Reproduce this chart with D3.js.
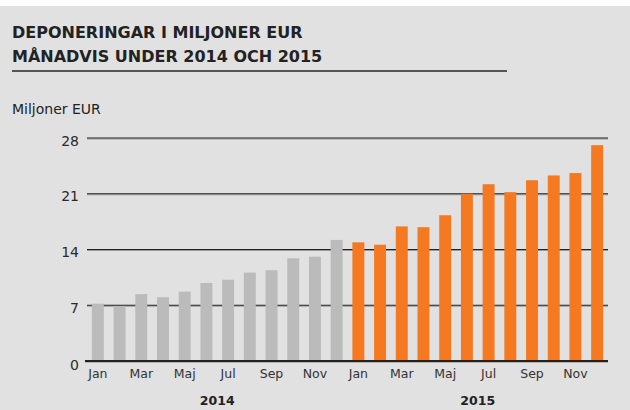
<!DOCTYPE html>
<html>
<head>
<meta charset="utf-8">
<script src="https://cdn.jsdelivr.net/npm/d3@7"></script>
<style>
  body { margin: 0; background: #fff; }
  text { font-family: "DejaVu Sans", sans-serif; }
</style>
</head>
<body>
<div id="chart"></div>
<script>
// Chart data
var months = ["Jan", "Feb", "Mar", "Apr", "Maj", "Jun", "Jul", "Aug", "Sep", "Okt", "Nov", "Dec"];
var years = ["2014", "2015"];
var values2014 = [7.2, 6.9, 8.4, 8.0, 8.7, 9.8, 10.2, 11.1, 11.4, 12.9, 13.1, 15.2];
var values2015 = [14.9, 14.6, 16.9, 16.8, 18.3, 21.0, 22.2, 21.2, 22.7, 23.3, 23.6, 27.1];
var yTicks = [0, 7, 14, 21, 28];

var svgWidth = 630, svgHeight = 410;
var margin = { top: 138, left: 87, bottom: 49, right: 22 };
var width = svgWidth - margin.left - margin.right;
var height = svgHeight - margin.top - margin.bottom;

var svg = d3.select("#chart").append("svg")
  .attr("width", svgWidth).attr("height", svgHeight);

svg.append("rect")
  .attr("x", 0).attr("y", 6)
  .attr("width", svgWidth).attr("height", svgHeight - 6)
  .attr("fill", "#e1e1e1");

// Title
var title = svg.append("text")
  .attr("x", 12).attr("y", 38)
  .attr("font-size", 16).attr("font-weight", "bold").attr("fill", "#222");
title.append("tspan").attr("x", 12).attr("dy", 0).text("DEPONERINGAR I MILJONER EUR");
title.append("tspan").attr("x", 12).attr("dy", 24).text("MÅNADVIS UNDER 2014 OCH 2015");

svg.append("line")
  .attr("x1", 12).attr("x2", 507).attr("y1", 71).attr("y2", 71)
  .attr("stroke", "#555").attr("stroke-width", 2);

svg.append("text")
  .attr("x", 12).attr("y", 114)
  .attr("font-size", 14).attr("fill", "#222")
  .text("Miljoner EUR");

var data = [];
years.forEach(function(yr, i) {
  var vals = i === 0 ? values2014 : values2015;
  months.forEach(function(m, j) {
    data.push({ key: yr + "-" + m, month: m, year: yr, value: vals[j] });
  });
});

var chartGroup = svg.append("g").attr("transform", `translate(${margin.left}, ${margin.top})`);

var xScale = d3.scaleBand()
  .domain(data.map(d => d.key))
  .range([0, width])
  .paddingInner(0.45)
  .paddingOuter(0.225);

var yScale = d3.scaleLinear().domain([0, 28]).range([height, 0]);

// Gridlines
var grid = chartGroup.append("g");
yTicks.filter(t => t > 0).forEach(function(t) {
  grid.append("line")
    .attr("x1", 0).attr("x2", width)
    .attr("y1", yScale(t) + 1).attr("y2", yScale(t) + 1)
    .attr("stroke", "#999").attr("stroke-width", 1);
  grid.append("line")
    .attr("x1", 0).attr("x2", width)
    .attr("y1", yScale(t)).attr("y2", yScale(t))
    .attr("stroke", "#222").attr("stroke-width", 1.2);
});

// Y axis labels
var leftAxis = d3.axisLeft(yScale).tickValues(yTicks).tickSize(0).tickPadding(8);
var yAxis = chartGroup.append("g").call(leftAxis);
yAxis.select(".domain").remove();
yAxis.selectAll("text")
  .attr("font-size", 14).attr("fill", "#2a2a2a")
  .attr("dy", d => d === 0 ? "0.6em" : "0.5em")
  .style("font-family", "DejaVu Sans, sans-serif");

// Bars
chartGroup.selectAll("rect.bar")
  .data(data)
  .enter()
  .append("rect")
  .attr("class", "bar")
  .attr("x", d => xScale(d.key))
  .attr("y", d => yScale(d.value))
  .attr("width", xScale.bandwidth())
  .attr("height", d => height - yScale(d.value))
  .attr("fill", d => d.year === "2014" ? "#bbbbbb" : "#f47920");

// Baseline
chartGroup.append("line")
  .attr("x1", -2).attr("x2", width)
  .attr("y1", height + 1).attr("y2", height + 1)
  .attr("stroke", "#888").attr("stroke-width", 1);
chartGroup.append("line")
  .attr("x1", -2).attr("x2", width)
  .attr("y1", height).attr("y2", height)
  .attr("stroke", "#222").attr("stroke-width", 2);

// X axis month labels (every other month)
var bottomAxis = d3.axisBottom(xScale)
  .tickValues(data.filter((d, i) => i % 2 === 0).map(d => d.key))
  .tickFormat(k => k.split("-")[1])
  .tickSize(0).tickPadding(8);
var xAxis = chartGroup.append("g")
  .attr("transform", `translate(0, ${height})`)
  .call(bottomAxis);
xAxis.select(".domain").remove();
xAxis.selectAll("text")
  .attr("font-size", 12.5).attr("fill", "#333")
  .style("font-family", "DejaVu Sans, sans-serif");

// Year labels
years.forEach(function(yr) {
  var first = xScale(yr + "-Jan");
  var last = xScale(yr + "-Dec") + xScale.bandwidth();
  chartGroup.append("text")
    .attr("x", (first + last) / 2)
    .attr("y", height + 44)
    .attr("text-anchor", "middle")
    .attr("font-size", 12.5).attr("font-weight", "bold").attr("fill", "#222")
    .text(yr);
});
</script>
</body>
</html>
